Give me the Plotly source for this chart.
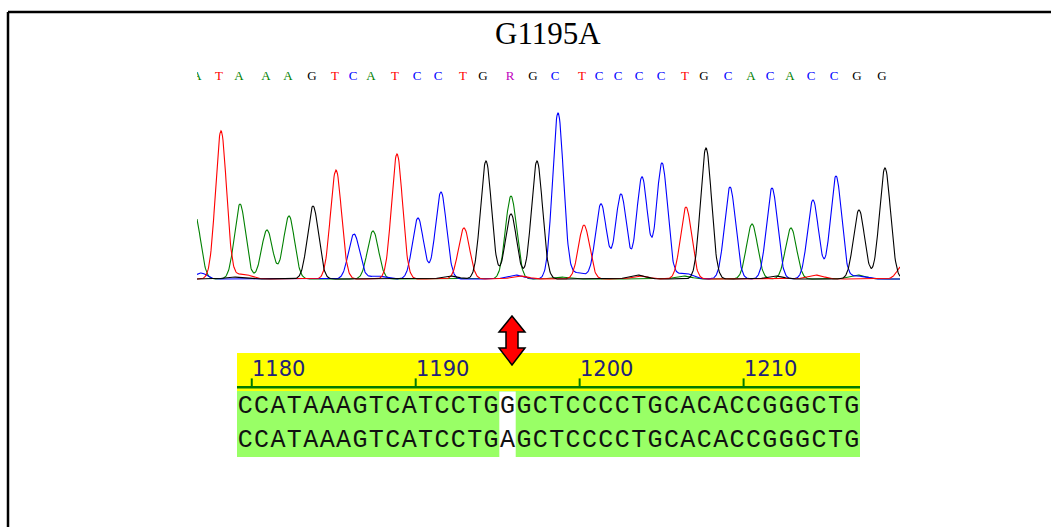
import numpy as np
import plotly.graph_objects as go

W, H = 1051, 527

# ---------------- data ----------------
title_text = "G1195A"

# base calls shown above the trace (scan position of each call)
base_calls = list("ATAAAGTCATCCTGRGCTCCCCTGCACACCGG")
base_pos = [197, 219, 239, 266, 288, 312, 335, 353, 371, 395, 417, 438, 463, 483, 510, 533,
            555, 582, 599, 618, 639, 661, 685, 704, 728, 751, 770, 790, 811, 834, 857, 882]

# main peaks per dye channel (scan position, signal height)
peak_A_pos = [195, 240, 267, 289, 373, 511, 752, 791]
peak_A_h = [64, 75, 49, 63, 48, 83, 55, 51]
peak_C_pos = [201, 354, 418, 441, 558, 601, 621, 642, 662, 730, 772, 813, 836]
peak_C_h = [6, 45, 61, 87, 166, 75, 85, 102, 116, 92, 91, 79, 103]
peak_G_pos = [313, 486, 511, 537, 706, 859, 885]
peak_G_h = [73, 118, 65, 118, 131, 69, 111]
peak_T_pos = [221, 336, 397, 464, 584, 686, 903]
peak_T_h = [148, 109, 125, 51, 54, 72, 14]

# small baseline bumps per channel
minor_A_pos = [560, 683, 857]
minor_A_h = [2, 3, 4]
minor_C_pos = [377, 515, 578, 684, 857]
minor_C_h = [3, 4, 6, 6, 3]
minor_G_pos = [233, 450, 637, 775]
minor_G_h = [2, 3, 4, 3]
minor_T_pos = [243, 520, 640, 815]
minor_T_h = [5, 3, 3, 4]

# alignment
ref_seq = "CCATAAAGTCATCCTGGGCTCCCCTGCACACCGGGCTG"
sample_seq = "CCATAAAGTCATCCTGAGCTCCCCTGCACACCGGGCTG"
seq_start = 1179
ruler_ticks = [1180, 1190, 1200, 1210]
variant_pos = 1195

# ---------------- styles ----------------
dye_colors = {"A": "#008000", "C": "#0000ff", "G": "#000000", "T": "#ff0000", "R": "#c000c0"}
SIGMA = 5.5
SIGMA_MINOR = 8.0


def py(pix):
    return 1 - pix / H


def px(pix):
    return pix / W


scan = np.arange(197, 900.01, 0.5)


def channel(pos, h, mpos, mh):
    y = np.zeros_like(scan)
    for p, a in zip(pos, h):
        y += a * np.exp(-(scan - p) ** 2 / (2 * SIGMA ** 2))
    for p, a in zip(mpos, mh):
        y += a * np.exp(-(scan - p) ** 2 / (2 * SIGMA_MINOR ** 2))
    return y


fig = go.Figure()

channels = [
    ("A", peak_A_pos, peak_A_h, minor_A_pos, minor_A_h),
    ("C", peak_C_pos, peak_C_h, minor_C_pos, minor_C_h),
    ("T", peak_T_pos, peak_T_h, minor_T_pos, minor_T_h),
    ("G", peak_G_pos, peak_G_h, minor_G_pos, minor_G_h),
]
for base, pos, h, mpos, mh in channels:
    fig.add_trace(go.Scatter(
        x=scan, y=channel(pos, h, mpos, mh), mode="lines",
        line=dict(color=dye_colors[base], width=1.1),
        xaxis="x", yaxis="y", hoverinfo="skip", showlegend=False))

# base call letters
fig.add_trace(go.Scatter(
    x=base_pos, y=[202] * len(base_pos), mode="text", text=base_calls,
    textfont=dict(family="Liberation Serif", size=13,
                  color=[dye_colors[b] for b in base_calls]),
    cliponaxis=True, xaxis="x", yaxis="y", hoverinfo="skip", showlegend=False))

# alignment letters
n = len(ref_seq)
seq_x = [seq_start + i for i in range(n)]
for row, seq in ((1, ref_seq), (2, sample_seq)):
    fig.add_trace(go.Scatter(
        x=seq_x, y=[row] * n, mode="text", text=list(seq),
        textfont=dict(family="Liberation Mono, Courier New, monospace", size=25, color="#111111"),
        cliponaxis=True, xaxis="x2", yaxis="y2", hoverinfo="skip", showlegend=False))

shapes = []
x_lo, x_hi = seq_start - 0.5, seq_start + n - 0.5
# ruler background
shapes.append(dict(type="rect", xref="x2", yref="y2", x0=x_lo, x1=x_hi, y0=-0.6, y1=0.52,
                   fillcolor="#ffff00", line=dict(width=0), layer="below"))
# aligned block
shapes.append(dict(type="rect", xref="x2", yref="y2", x0=x_lo, x1=x_hi, y0=0.52, y1=2.47,
                   fillcolor="#99ff66", line=dict(width=0), layer="below"))
# mismatch column
shapes.append(dict(type="rect", xref="x2", yref="y2", x0=variant_pos - 0.5, x1=variant_pos + 0.5,
                   y0=0.54, y1=2.47, fillcolor="#ffffff", line=dict(width=0), layer="below"))
# ruler line
shapes.append(dict(type="line", xref="x2", yref="y2", x0=x_lo, x1=x_hi, y0=0.41, y1=0.41,
                   line=dict(color="#007a00", width=2.5)))
for t in ruler_ticks:
    shapes.append(dict(type="line", xref="x2", yref="y2", x0=t - 0.6, x1=t - 0.6, y0=0.15, y1=0.41,
                       line=dict(color="#007a00", width=2)))

# double arrow pointing at the variant call
cx = base_pos[base_calls.index("R")] + 2
hw, sw = 13, 6
t_tip, h1, h2, b_tip = 316, 332, 348, 365
pts = [(cx, t_tip), (cx + hw, h1), (cx + sw, h1), (cx + sw, h2), (cx + hw, h2), (cx, b_tip),
       (cx - hw, h2), (cx - sw, h2), (cx - sw, h1), (cx - hw, h1)]
path = "M " + " L ".join(f"{x},{py(y)}" for x, y in pts) + " Z"
shapes.append(dict(type="path", xref="x", yref="paper", path=path,
                   fillcolor="#ff0000", line=dict(color="#000000", width=1.5)))

# frame
shapes.append(dict(type="line", xref="paper", yref="paper", x0=px(8), x1=1.01, y0=py(12), y1=py(12),
                   line=dict(color="black", width=2.5)))
shapes.append(dict(type="line", xref="paper", yref="paper", x0=px(8), x1=px(8), y0=py(12), y1=-0.02,
                   line=dict(color="black", width=2.5)))

annotations = [dict(text=title_text, xref="paper", yref="paper", x=px(548), y=py(33),
                    xanchor="center", yanchor="middle", showarrow=False,
                    font=dict(family="Liberation Serif", size=31, color="black"))]
for t in ruler_ticks:
    annotations.append(dict(text=str(t), xref="x2", yref="y2", x=t - 0.6, y=-0.13,
                            xanchor="left", yanchor="middle", xshift=-2, showarrow=False,
                            font=dict(family="DejaVu Sans", size=21, color="#22227a")))

axis_off = dict(visible=False, showgrid=False, zeroline=False, fixedrange=True)
fig.update_layout(
    width=W, height=H, margin=dict(l=0, r=0, t=0, b=0),
    paper_bgcolor="white", plot_bgcolor="white", showlegend=False, hovermode=False,
    xaxis=dict(domain=[px(197), px(900)], range=[197, 900], **axis_off),
    yaxis=dict(domain=[py(280), py(65)], range=[-1, 214], **axis_off),
    xaxis2=dict(domain=[px(237), px(860)], range=[x_lo, x_hi], anchor="y2", **axis_off),
    yaxis2=dict(domain=[py(457), py(353)], range=[2.47, -0.6], anchor="x2", **axis_off),
    shapes=shapes, annotations=annotations,
)

fig.write_html("out.html")
